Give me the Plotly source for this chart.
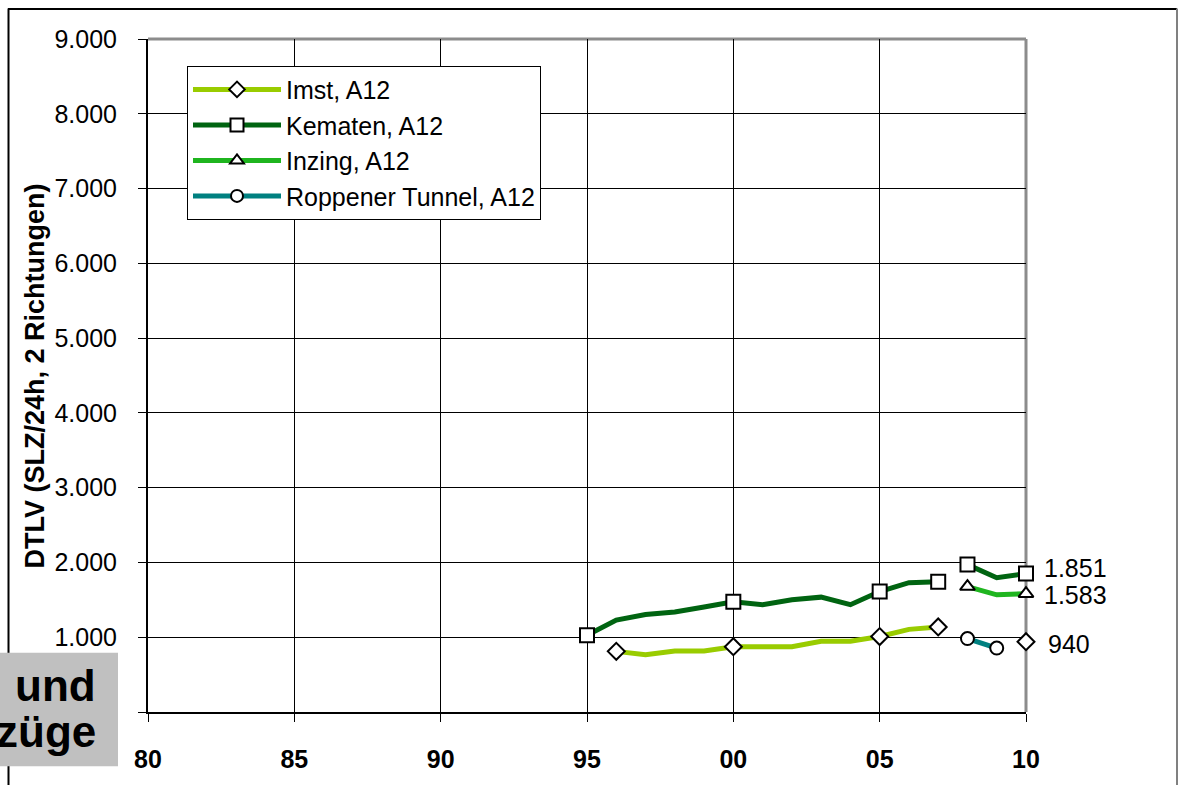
import plotly.graph_objects as go

# ---------------- data ----------------
IMST_YEARS = [1996, 1997, 1998, 1999, 2000, 2001, 2002, 2003, 2004, 2005, 2006, 2007, 2010]
IMST_VALUES = [811, 767, 815, 815, 873, 873, 873, 947, 947, 1009, 1105, 1137, 940]
IMST_SEGMENT = [1, 1, 1, 1, 1, 1, 1, 1, 1, 1, 1, 1, 2]
IMST_MARKED = [1996, 2000, 2005, 2007, 2010]

KEMATEN_YEARS = [1995, 1996, 1997, 1998, 1999, 2000, 2001, 2002, 2003, 2004, 2005, 2006, 2007, 2008, 2009, 2010]
KEMATEN_VALUES = [1026, 1229, 1303, 1338, 1404, 1474, 1435, 1501, 1536, 1435, 1611, 1730, 1743, 1971, 1796, 1851]
KEMATEN_SEGMENT = [1, 1, 1, 1, 1, 1, 1, 1, 1, 1, 1, 1, 1, 2, 2, 2]
KEMATEN_MARKED = [1995, 2000, 2005, 2007, 2008, 2010]

INZING_YEARS = [2008, 2009, 2010]
INZING_VALUES = [1677, 1567, 1583]
INZING_SEGMENT = [1, 1, 1]
INZING_MARKED = [2008, 2010]

ROPPENER_YEARS = [2008, 2009]
ROPPENER_VALUES = [982, 855]
ROPPENER_SEGMENT = [1, 1]
ROPPENER_MARKED = [2008, 2009]

SERIES_NAMES = ["Imst, A12", "Kematen, A12", "Inzing, A12", "Roppener Tunnel, A12"]
X_TICK_VALUES = [1980, 1985, 1990, 1995, 2000, 2005, 2010]
X_TICK_LABELS = ["80", "85", "90", "95", "00", "05", "10"]
Y_TICK_VALUES = [0, 1000, 2000, 3000, 4000, 5000, 6000, 7000, 8000, 9000]
Y_TICK_LABELS = ["0", "1.000", "2.000", "3.000", "4.000", "5.000", "6.000", "7.000", "8.000", "9.000"]
Y_TITLE = "DTLV (SLZ/24h, 2 Richtungen)"
BOX_TEXT = ["und", "züge"]

# ---------------- styles ----------------
FONT = "Liberation Sans, Arial, sans-serif"
series = [
    (SERIES_NAMES[0], IMST_YEARS, IMST_VALUES, IMST_SEGMENT, IMST_MARKED, "#99CC00", "diamond", 13),
    (SERIES_NAMES[1], KEMATEN_YEARS, KEMATEN_VALUES, KEMATEN_SEGMENT, KEMATEN_MARKED, "#006411", "square", 14),
    (SERIES_NAMES[2], INZING_YEARS, INZING_VALUES, INZING_SEGMENT, INZING_MARKED, "#1FB51F", "triangle-up", 13),
    (SERIES_NAMES[3], ROPPENER_YEARS, ROPPENER_VALUES, ROPPENER_SEGMENT, ROPPENER_MARKED, "#008080", "circle", 13),
]

fig = go.Figure()

# lines (one trace per continuous segment)
for name, xs, ys, seg, marked, color, sym, size in series:
    for s in sorted(set(seg)):
        sx = [x for x, g in zip(xs, seg) if g == s]
        sy = [y for y, g in zip(ys, seg) if g == s]
        fig.add_trace(go.Scatter(x=sx, y=sy, mode="lines", showlegend=False,
                                 line=dict(color=color, width=5), cliponaxis=False,
                                 hoverinfo="skip"))

# markers
for name, xs, ys, seg, marked, color, sym, size in series:
    mx = [x for x in xs if x in marked]
    my = [y for x, y in zip(xs, ys) if x in marked]
    fig.add_trace(go.Scatter(x=mx, y=my, mode="markers", showlegend=False, cliponaxis=False,
                             marker=dict(symbol=sym, size=size, color="white",
                                         line=dict(color="black", width=2))))

# legend entries
for name, xs, ys, seg, marked, color, sym, size in series:
    fig.add_trace(go.Scatter(x=[None], y=[None], mode="lines+markers", name=name,
                             line=dict(color=color, width=5),
                             marker=dict(symbol=sym, size=size - 1, color="white",
                                         line=dict(color="black", width=2))))

# end labels
for xs, ys, ysh, xsh in [
    (KEMATEN_YEARS, KEMATEN_VALUES, 6, 16),
    (INZING_YEARS, INZING_VALUES, -1, 16),
    (IMST_YEARS, IMST_VALUES, -2, 20),
]:
    v = ys[-1]
    fig.add_annotation(x=xs[-1], y=v, text=f"{v:,}".replace(",", "."), showarrow=False,
                       xanchor="left", yanchor="middle", xshift=xsh, yshift=ysh,
                       font=dict(family=FONT, size=25, color="black"))

W, H = 1178, 785
L, R, T, B = 148, 152, 39, 64
pw, ph = W - L - R, H - T - B


def px(x):
    return (x - L) / pw


def py(y):
    return (H - B - y) / ph


shapes = [
    # plot-area top & right border (grey)
    dict(type="line", xref="paper", yref="paper", x0=0, x1=1, y0=1, y1=1,
         line=dict(color="#8C8C8C", width=3), layer="below"),
    dict(type="line", xref="paper", yref="paper", x0=1, x1=1, y0=0, y1=1,
         line=dict(color="#8C8C8C", width=3), layer="below"),
    # outer frame
    dict(type="line", xref="paper", yref="paper", x0=px(8), x1=px(1177), y0=py(8.5), y1=py(8.5),
         line=dict(color="black", width=2), layer="above"),
    dict(type="line", xref="paper", yref="paper", x0=px(8.5), x1=px(8.5), y0=py(8), y1=py(800),
         line=dict(color="black", width=2), layer="above"),
    dict(type="line", xref="paper", yref="paper", x0=px(1177), x1=px(1177), y0=py(8), y1=py(800),
         line=dict(color="#808080", width=2), layer="above"),
    # grey box bottom-left
    dict(type="rect", xref="paper", yref="paper", x0=px(-5), x1=px(118), y0=py(661), y1=py(776),
         fillcolor="#C0C0C0", line=dict(width=0), layer="above"),
]

fig.add_annotation(xref="paper", yref="paper", x=px(35), y=py(381), text=Y_TITLE, textangle=-90,
                   showarrow=False, xanchor="center", yanchor="middle",
                   font=dict(family=FONT, size=27, color="black", weight="bold"))
fig.add_annotation(xref="paper", yref="paper", x=px(98), y=py(694), text=BOX_TEXT[0],
                   showarrow=False, xanchor="right", yanchor="middle",
                   font=dict(family=FONT, size=44, color="black", weight="bold"))
fig.add_annotation(xref="paper", yref="paper", x=px(98), y=py(741), text=BOX_TEXT[1],
                   showarrow=False, xanchor="right", yanchor="middle",
                   font=dict(family=FONT, size=44, color="black", weight="bold"))

fig.update_layout(
    width=W, height=H, autosize=False,
    margin=dict(l=L, r=R, t=T, b=B, pad=0),
    paper_bgcolor="white", plot_bgcolor="white",
    font=dict(family=FONT, color="black"),
    shapes=shapes,
    legend=dict(x=px(187), y=py(66), xanchor="left", yanchor="top",
                bgcolor="white", bordercolor="black", borderwidth=1,
                font=dict(family=FONT, size=25, color="black"),
                tracegroupgap=0, itemwidth=88),
    xaxis=dict(range=[1980, 2010], tickvals=X_TICK_VALUES, ticktext=X_TICK_LABELS,
               showgrid=True, gridcolor="black", gridwidth=1,
               showline=True, linecolor="black", linewidth=2,
               ticks="outside", ticklen=8, tickcolor="black", tickwidth=1,
               tickfont=dict(family=FONT, size=25, color="black", weight="bold"),
               ticklabelstandoff=16, zeroline=False, layer="below traces"),
    yaxis=dict(range=[0, 9000], tickvals=Y_TICK_VALUES, ticktext=Y_TICK_LABELS,
               showgrid=True, gridcolor="black", gridwidth=1,
               showline=True, linecolor="black", linewidth=2,
               ticks="outside", ticklen=8, tickcolor="black", tickwidth=1,
               tickfont=dict(family=FONT, size=25, color="black"),
               ticklabelstandoff=16, zeroline=False, layer="below traces"),
)

fig.write_html("out.html", config={"displayModeBar": False},
               post_script="document.body.style.margin='0';document.body.style.overflow='hidden';")
